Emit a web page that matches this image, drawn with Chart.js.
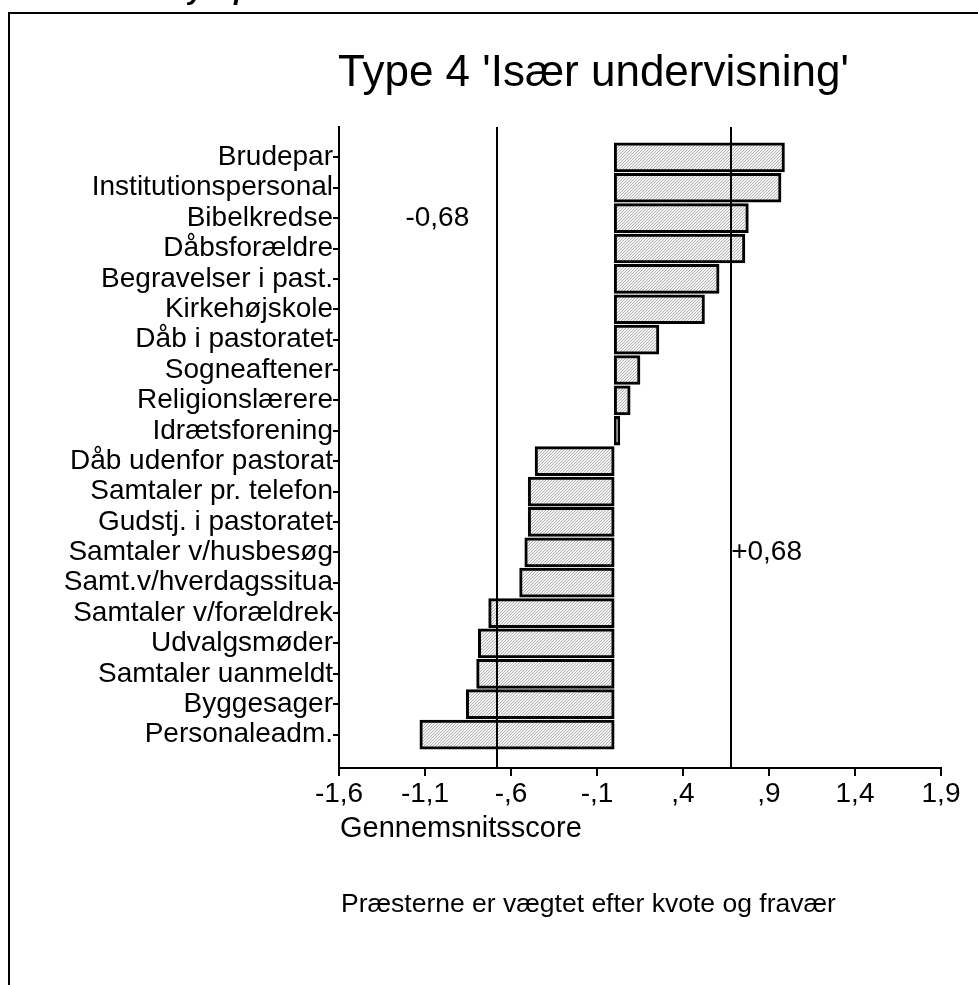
<!DOCTYPE html>
<html lang="da">
<head>
<meta charset="UTF-8">
<title>Type 4 'Især undervisning'</title>
<script src="https://cdn.jsdelivr.net/npm/chart.js@4.4.0/dist/chart.umd.min.js"></script>
<style>
    html, body { margin: 0; padding: 0; background: #fff; }
    #wrap { width: 978px; height: 985px; position: relative; }
</style>
</head>
<body>
<div id="wrap"><canvas id="chart"></canvas></div>
<script>
    // data
    const categories = [
        'Brudepar', 'Institutionspersonal', 'Bibelkredse', 'Dåbsforældre',
        'Begravelser i past.', 'Kirkehøjskole', 'Dåb i pastoratet', 'Sogneaftener',
        'Religionslærere', 'Idrætsforening', 'Dåb udenfor pastorat', 'Samtaler pr. telefon',
        'Gudstj. i pastoratet', 'Samtaler v/husbesøg', 'Samt.v/hverdagssitua', 'Samtaler v/forældrek',
        'Udvalgsmøder', 'Samtaler uanmeldt', 'Byggesager', 'Personaleadm.'
    ];
    const scores = [
        0.99, 0.97, 0.78, 0.76, 0.61, 0.525, 0.26, 0.15, 0.093, 0.033,
        -0.46, -0.50, -0.50, -0.52, -0.55, -0.73, -0.79, -0.80, -0.86, -1.13
    ];
    const xTickValues = [-1.6, -1.1, -0.6, -0.1, 0.4, 0.9, 1.4, 1.9];
    const xTickLabels = ['-1,6', '-1,1', '-,6', '-,1', ',4', ',9', '1,4', '1,9'];
    const refLines = [-0.68, 0.68];
    const refLabels = ['-0,68', '+0,68'];

    const FONT = '"Liberation Sans", Arial, sans-serif';

    // light grey hatch like the printed bars
    function hatch() {
        const c = document.createElement('canvas');
        c.width = 3; c.height = 3;
        const g = c.getContext('2d');
        g.fillStyle = '#f2f2f2';
        g.fillRect(0, 0, 3, 3);
        g.fillStyle = '#b4b4b4';
        for (let i = 0; i < 3; i++) g.fillRect(i, 2 - i, 1, 1);
        return g.createPattern(c, 'repeat');
    }

    const decor = {
        id: 'decor',
        afterDatasetsDraw(chart) {
            const { ctx, chartArea, scales } = chart;
            ctx.save();
            ctx.strokeStyle = '#000';
            ctx.lineWidth = 2;
            refLines.forEach(v => {
                const x = Math.round(scales.x.getPixelForValue(v));
                ctx.beginPath();
                ctx.moveTo(x, chartArea.top);
                ctx.lineTo(x, chartArea.bottom);
                ctx.stroke();
            });
            ctx.fillStyle = '#000';
            ctx.font = '28px ' + FONT;
            ctx.textBaseline = 'middle';
            ctx.textAlign = 'right';
            ctx.fillText(refLabels[0], scales.x.getPixelForValue(refLines[0]) - 28, scales.y.getPixelForValue(2));
            ctx.textAlign = 'left';
            ctx.fillText(refLabels[1], scales.x.getPixelForValue(refLines[1]), scales.y.getPixelForValue(13));
            ctx.restore();
        },
        afterDraw(chart) {
            const ctx = chart.ctx;
            ctx.save();
            // page frame
            ctx.strokeStyle = '#000';
            ctx.lineWidth = 2;
            ctx.beginPath();
            ctx.moveTo(9, 985);
            ctx.lineTo(9, 13);
            ctx.lineTo(978, 13);
            ctx.stroke();

            ctx.fillStyle = '#000';
            // cut-off heading above the frame
            ctx.font = 'italic bold 28px ' + FONT;
            ctx.textBaseline = 'alphabetic';
            ctx.textAlign = 'left';
            ctx.fillText('y', 188, -1);
            ctx.fillText('p', 234, -1);

            ctx.font = '44px ' + FONT;
            ctx.fillText("Type 4 'Især undervisning'", 338, 86);

            ctx.font = '29px ' + FONT;
            ctx.fillText('Gennemsnitsscore', 340, 837);

            ctx.font = '26.5px ' + FONT;
            ctx.fillText('Præsterne er vægtet efter kvote og fravær', 341, 912);
            ctx.restore();
        }
    };

    new Chart(document.getElementById('chart'), {
        type: 'bar',
        data: {
            datasets: [{
                data: scores.map((v, i) => ({ x: v, y: i })),
                backgroundColor: hatch(),
                borderColor: '#000',
                borderWidth: 3,
                borderSkipped: false,
                barThickness: 29
            }]
        },
        options: {
            indexAxis: 'y',
            responsive: true,
            maintainAspectRatio: false,
            animation: false,
            layout: { padding: { left: 0, top: 127, right: 37, bottom: 0 } },
            plugins: {
                legend: { display: false },
                tooltip: { enabled: false }
            },
            scales: {
                x: {
                    type: 'linear',
                    min: -1.6,
                    max: 1.9,
                    afterBuildTicks: s => { s.ticks = xTickValues.map(v => ({ value: v })); },
                    afterFit: s => { s.height = 217; },
                    ticks: {
                        callback: (v, i) => xTickLabels[i],
                        font: { family: FONT, size: 28 },
                        color: '#000',
                        padding: 1,
                        maxRotation: 0,
                        autoSkip: false
                    },
                    grid: { drawOnChartArea: false, tickLength: 8, color: '#000', lineWidth: 2 },
                    border: { color: '#000', width: 2 }
                },
                y: {
                    type: 'linear',
                    reverse: true,
                    offset: false,
                    min: -1,
                    max: 20.1,
                    afterBuildTicks: s => { s.ticks = categories.map((c, i) => ({ value: i })); },
                    afterFit: s => { s.width = 339; },
                    ticks: {
                        callback: v => categories[v],
                        font: { family: FONT, size: 28 },
                        color: '#000',
                        padding: 0,
                        autoSkip: false
                    },
                    grid: { offset: false, drawOnChartArea: false, tickLength: 6, color: '#000', lineWidth: 2 },
                    border: { color: '#000', width: 2 }
                }
            }
        },
        plugins: [decor]
    });
</script>
</body>
</html>
